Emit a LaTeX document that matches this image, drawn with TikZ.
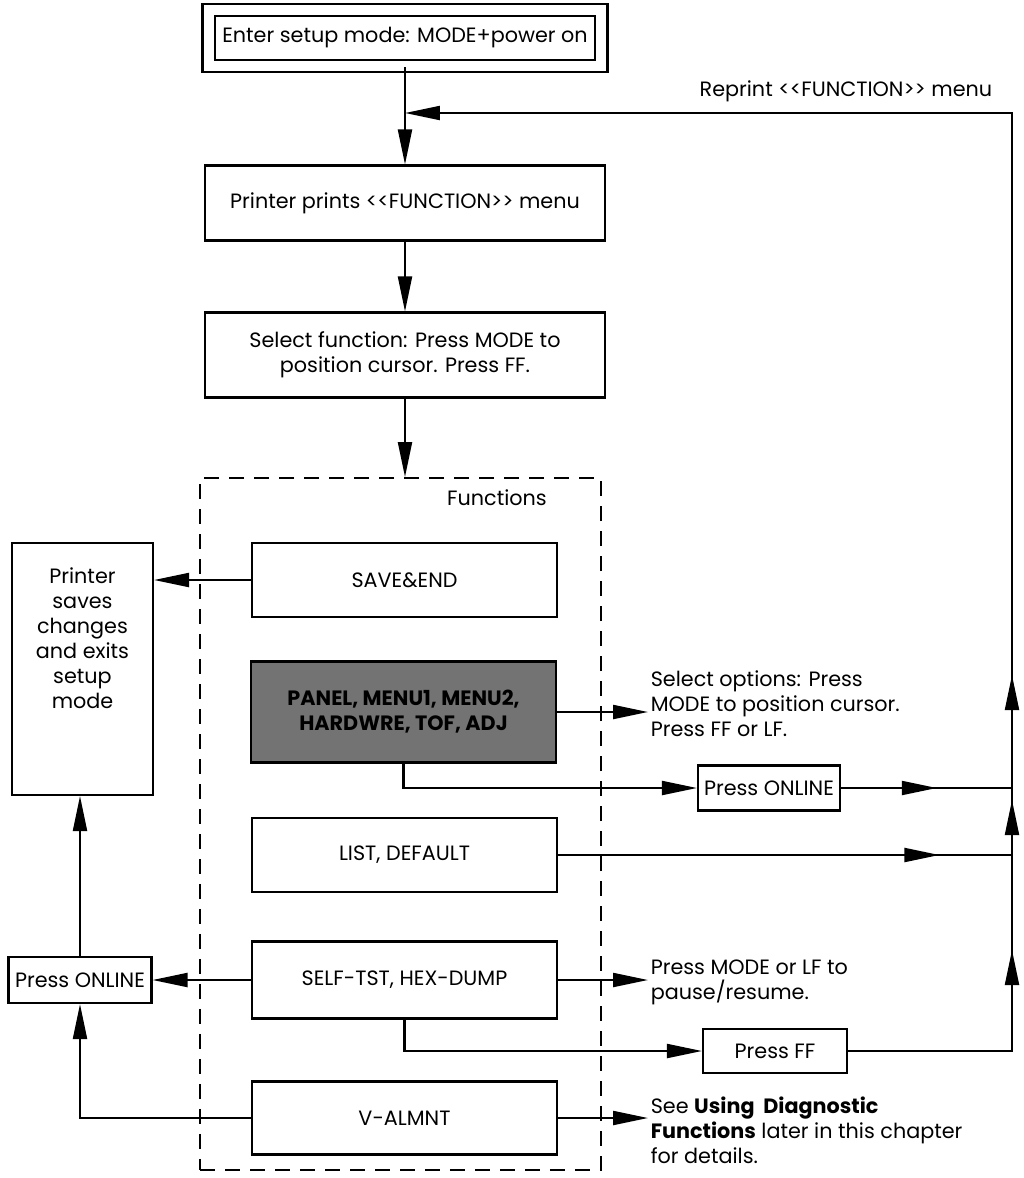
\documentclass[tikz,border=0pt]{standalone}
\usepackage{fontspec}
\setmainfont{Poppins}[Ligatures=TeXOff]
\usepackage{tikz}
\usetikzlibrary{positioning, arrows.meta, decorations.markings}

\begin{document}
\begin{tikzpicture}[
    x=0.02cm, y=-0.02cm, line width=1.2pt,
    >={Triangle[length=0.7cm, width=0.28cm]},
    font=\fontsize{11.8}{14.2}\selectfont,
    box/.style={draw, rectangle, inner sep=2pt, align=center},
    funcbox/.style={box, minimum width=6.1cm, minimum height=1.48cm},
    stepbox/.style={box, minimum width=8cm},
    smallbox/.style={box, minimum width=2.86cm, minimum height=0.92cm},
    note/.style={align=left, inner sep=1pt},
    midarrow/.style={postaction={decorate}, decoration={markings, mark=at position #1 with {\arrow{>}}}}
]
    \useasboundingbox (0,0) rectangle (1024,1178);

    % main column
    \node[box, double, double distance=0.2cm, minimum width=7.86cm, minimum height=1.12cm] (enter) at (405,38) {Enter setup mode: MODE+power on};
    \node[stepbox, minimum height=1.5cm] (prints) at (405,203) {Printer prints <<FUNCTION>> menu};
    \node[stepbox, minimum height=1.7cm] (select) at (405,355) {Select function: Press MODE to\\position cursor. Press FF.};

    % functions frame
    \node[draw, dash pattern=on 0.3cm off 0.2cm, minimum width=8.02cm, minimum height=13.84cm, inner sep=0] (funcs) at (400.5,824) {};
    \node (funclabel) at (497,498) {Functions};

    \node[funcbox] (saveend) at (404.5,580) {SAVE\&END};
    \node[funcbox, minimum height=2.02cm, fill=black!55, font=\fontsize{11.8}{14.2}\selectfont\bfseries] (panel) at (403.5,712) {PANEL, MENU1, MENU2,\\HARDWRE, TOF, ADJ};
    \node[funcbox] (listdef) at (404.5,855) {LIST, DEFAULT};
    \node[funcbox, minimum height=1.54cm] (selftst) at (404.5,980) {SELF-TST, HEX-DUMP};
    \node[funcbox, minimum height=1.46cm] (valmnt) at (404.5,1118) {V-ALMNT};

    % left side
    \node[box, minimum width=2.82cm, minimum height=5.04cm] (saves) at (82.5,669) {};
    \node[align=center, below=0.38cm of saves.north, anchor=north] (savestxt) {Printer\\saves\\changes\\and exits\\setup\\mode};
    \node[smallbox] (ponl) at (80,980) {Press ONLINE};

    % right side
    \node[smallbox, minimum width=2.84cm, minimum height=0.9cm] (ponr) at (769,788) {Press ONLINE};
    \node[smallbox, minimum width=2.88cm, minimum height=0.88cm] (pff) at (775,1051) {Press FF};
    \node[note, anchor=west] (opttxt) at (648,704) {Select options: Press\\MODE to position cursor.\\Press FF or LF.};
    \node[note, anchor=west] (pausetxt) at (648,982) {Press MODE or LF to\\pause/resume.};
    \node[note, anchor=west] (seetxt) at (648,1130) {See \textbf{Using\ \ Diagnostic}\\\textbf{Functions} later in this chapter\\for details.};
    \node[anchor=east, inner sep=1pt] (reprint) at (995,91) {Reprint <<FUNCTION>> menu};
    \coordinate (trunk) at (1012,1051);
    \coordinate (trunktop) at (1012,113);

    % connectors
    \draw[->] (enter) -- (prints);
    \draw[->] (prints) -- (select);
    \draw[->] (select.south) -- (select.south |- funcs.north);
    \draw[->] (saveend.west) -- (saveend.west -| saves.east);
    \draw[->] (panel.east) -- (panel.east -| opttxt.west);
    \draw[->] (panel.south) |- (ponr.west);
    \draw[midarrow=0.56] (ponr.east) -- (ponr.east -| trunk);
    \draw[midarrow=0.84] (listdef.east) -- (listdef.east -| trunk);
    \draw[->] (selftst.west) -- (selftst.west -| ponl.east);
    \draw[->] (selftst.east) -- (selftst.east -| pausetxt.west);
    \draw[->] (selftst.south) |- (pff.west);
    \draw[->] (valmnt.west) -| (ponl.south);
    \draw[->] (valmnt.east) -- (valmnt.east -| seetxt.west);
    \draw[->] (ponl.north) -- (ponl.north |- saves.south);
    \draw[->, postaction={decorate}, decoration={markings,
            mark=at position 5.3cm with {\arrow{>}},
            mark=at position 8.3cm with {\arrow{>}},
            mark=at position 10.8cm with {\arrow{>}}}]
        (pff.east) -- (trunk) -- (trunktop) -- (trunktop -| enter.south);
\end{tikzpicture}
\end{document}
